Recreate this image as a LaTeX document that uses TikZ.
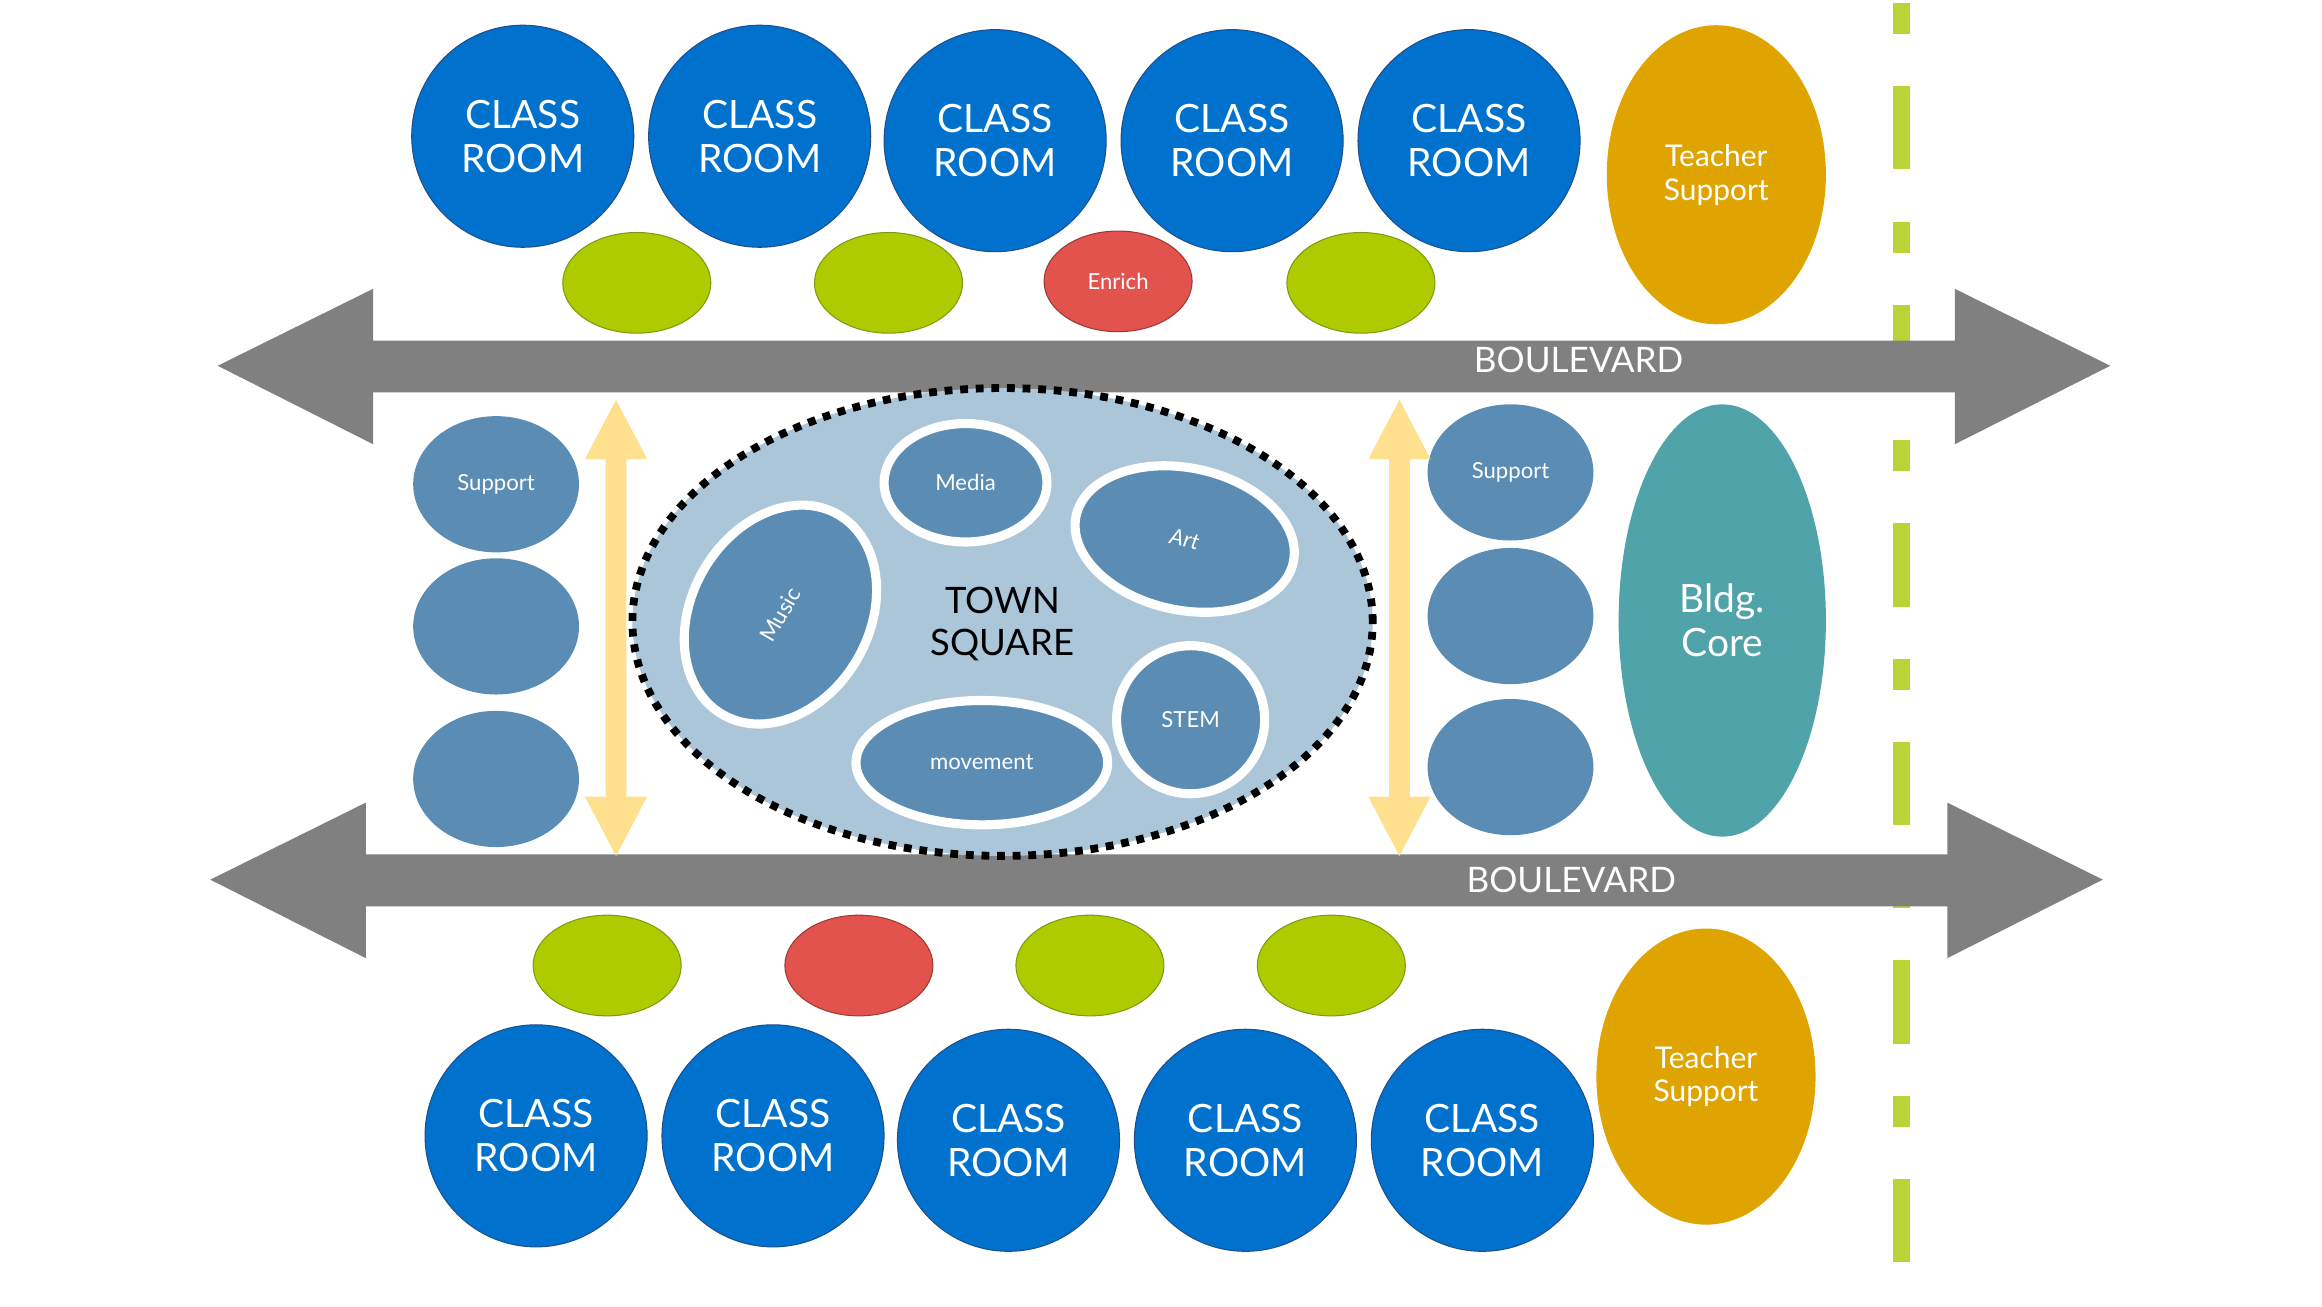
\documentclass[tikz,border=0pt]{standalone}
\usepackage{fontspec}
\setmainfont{Lato}
\usetikzlibrary{shapes.geometric}
\definecolor{roomblue}{HTML}{0072CE}
\definecolor{roomedge}{HTML}{1F4E8C}
\definecolor{steel}{HTML}{5B8DB4}
\definecolor{square}{HTML}{ABC5D9}
\definecolor{lime}{HTML}{AECB00}
\definecolor{limeedge}{HTML}{7F9A10}
\definecolor{enrich}{HTML}{E2534D}
\definecolor{gold}{HTML}{E0A400}
\definecolor{teal}{HTML}{4FA3A9}
\definecolor{road}{HTML}{808080}
\definecolor{sand}{HTML}{FFE08F}
\definecolor{fence}{HTML}{B8D436}
\tikzset{
  room/.style={circle, fill=roomblue, draw=roomedge, thin, minimum size=3cm, inner sep=0pt,
    align=center, text=white, font=\fontsize{15}{17}\selectfont},
  pod/.style={ellipse, fill=lime, draw=limeedge, thin, minimum width=2cm, minimum height=1.36cm, inner sep=0pt},
  redpod/.style={pod, fill=enrich, draw=enrich!70!black, text=white, font=\fontsize{8.5}{10}\selectfont},
  teacher/.style={ellipse, fill=gold, minimum width=2.96cm, minimum height=4.04cm, inner sep=0pt,
    align=center, text=white, font=\fontsize{11.5}{13}\selectfont},
  side/.style={ellipse, fill=steel, minimum width=2.24cm, minimum height=1.84cm, inner sep=0pt,
    text=white, font=\fontsize{8.5}{10}\selectfont},
  zone/.style={ellipse, fill=steel, draw=white, line width=3.5pt, inner sep=0pt,
    text=white, font=\fontsize{8.5}{10}\selectfont},
  blvd/.style={text=white, font=\fontsize{13.5}{15}\selectfont},
}
\begin{document}
\begin{tikzpicture}[x=0.02cm, y=-0.02cm]
\useasboundingbox (0,0) rectangle (1568,882);
% fence line
\draw[fence, line width=6.5pt, dash pattern=on 12pt off 20pt on 32pt off 20pt] (1284,2) -- (1284,855);
% boulevards
\fill[road] (147,247) -- (252,195) -- (252,230) -- (1320,230) -- (1320,195) -- (1425,247)
  -- (1320,300) -- (1320,265) -- (252,265) -- (252,300) -- cycle;
\fill[road] (142,594) -- (247,542) -- (247,577) -- (1315,577) -- (1315,542) -- (1420,594)
  -- (1315,647) -- (1315,612) -- (247,612) -- (247,647) -- cycle;
\node[blvd] (B_top) at (1066,243) {BOULEVARD};
\node[blvd] (B_bot) at (1061,594) {BOULEVARD};
% top rooms
\node[room] (R_t1) at (353,92) {CLASS\\ROOM};
\node[room] (R_t2) at (513,92) {CLASS\\ROOM};
\node[room] (R_t3) at (672,95) {CLASS\\ROOM};
\node[room] (R_t4) at (832,95) {CLASS\\ROOM};
\node[room] (R_t5) at (992,95) {CLASS\\ROOM};
\node[teacher] (T_top) at (1159,118) {Teacher\\Support};
\node[pod] (P_t1) at (430,191) {};
\node[pod] (P_t2) at (600,191) {};
\node[redpod] (P_t3) at (755,190) {Enrich};
\node[pod] (P_t4) at (919,191) {};
% bottom rooms
\node[room] (R_b1) at (362,767) {CLASS\\ROOM};
\node[room] (R_b2) at (522,767) {CLASS\\ROOM};
\node[room] (R_b3) at (681,770) {CLASS\\ROOM};
\node[room] (R_b4) at (841,770) {CLASS\\ROOM};
\node[room] (R_b5) at (1001,770) {CLASS\\ROOM};
\node[teacher, minimum height=4cm] (T_bot) at (1152,727) {Teacher\\Support};
\node[pod] (P_b1) at (410,652) {};
\node[redpod] (P_b2) at (580,652) {};
\node[pod] (P_b3) at (736,652) {};
\node[pod] (P_b4) at (899,652) {};
% side supports
\node[side] (S_l1) at (335,327) {Support};
\node[side] (S_l2) at (335,423) {};
\node[side] (S_l3) at (335,526) {};
\node[side] (S_r1) at (1020,319) {Support};
\node[side] (S_r2) at (1020,416) {};
\node[side] (S_r3) at (1020,518) {};
\node[ellipse, fill=teal, minimum width=2.8cm, minimum height=5.84cm, align=center, text=white,
  font=\fontsize{15}{17}\selectfont] (core) at (1163,419) {Bldg.\\Core};
% yellow links
\foreach \x in {416,945}
  \fill[sand] (\x,270) -- (\x+21,310) -- (\x+7,310) -- (\x+7,538) -- (\x+21,538) -- (\x,578)
    -- (\x-21,538) -- (\x-7,538) -- (\x-7,310) -- (\x-21,310) -- cycle;
% town square
\node[ellipse, fill=square, draw=black, line width=3pt, dash pattern=on 3pt off 3pt,
  minimum width=10cm, minimum height=6.32cm, align=center,
  font=\fontsize{14}{16}\selectfont] (town) at (677,420) {\\[-0.3em]TOWN\\SQUARE};
\node[zone, minimum width=2.2cm, minimum height=1.6cm] (media) at (652,326) {Media};
\node[zone, minimum width=3cm, minimum height=1.92cm, rotate=-12, font=\itshape\fontsize{8.5}{10}\selectfont] (art) at (800,364) {Art};
\node[zone, minimum width=3.12cm, minimum height=2.4cm, rotate=60] (music) at (527,415) {Music};
\node[zone, circle, minimum size=2cm] (stem) at (804,486) {STEM};
\node[zone, minimum width=3.4cm, minimum height=1.68cm] (move) at (663,515) {movement};
\end{tikzpicture}
\end{document}
